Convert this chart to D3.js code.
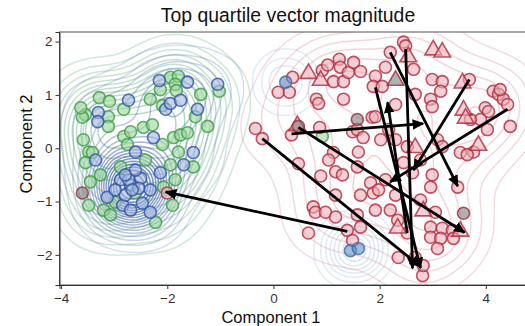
<!DOCTYPE html>
<html><head><meta charset="utf-8">
<script src="https://cdn.jsdelivr.net/npm/d3@7"></script>
<style>body{margin:0;background:#fff}text{font-family:"Liberation Sans",Arial,Helvetica,sans-serif}</style>
</head><body><svg id="c" width="525" height="326"></svg>
<script>
const title = "Top quartile vector magnitude";
const xLabel = "Component 1", yLabel = "Component 2";
const xTicks = [-4, -2, 0, 2, 4];
const yTicks = [-2, -1, 0, 1, 2];

const greenPts = [[-1.94,1.33],[-1.79,1.35],[-1.85,1.20],[-1.83,1.08],[-1.02,1.07],[-3.28,0.95],[-3.09,0.88],[-2.82,0.73],[-3.54,0.63],[-3.60,0.58],[-3.11,0.59],[-3.11,0.41],[-2.09,0.80],[-1.47,0.59],[-1.24,0.41],[-3.58,0.16],[-2.82,0.22],[-2.69,0.31],[-2.45,0.39],[-2.28,0.44],[-2.75,0.07],[-2.09,0.07],[-1.88,0.20],[-1.75,0.25],[-1.62,0.29],[-3.48,-0.07],[-1.79,-0.07],[-3.54,-0.27],[-3.41,-0.08],[-2.88,-0.35],[-1.94,-0.31],[-1.51,-0.35],[-3.45,-0.63],[-3.48,-1.07],[-2.60,-0.84],[-1.90,-1.07],[-2.07,-0.73],[-3.20,-1.16],[-2.98,-1.01],[-3.63,0.76],[-2.13,1.10],[-1.37,1.01],[-2.41,-0.22],[-3.26,-0.50],[-3.07,-1.25],[-2.22,-1.39],[-1.85,-0.59],[-2.32,0.92],[0.92,0.22]];
const bluePts = [[-2.15,1.27],[-1.62,1.24],[-1.05,1.20],[-2.73,0.90],[-3.30,0.67],[-3.31,0.50],[-2.03,0.73],[-1.94,0.84],[-1.75,0.90],[-1.43,0.73],[-2.26,0.20],[-2.60,-0.07],[-1.51,-0.08],[-3.35,-0.22],[-2.13,-0.46],[-1.69,-0.31],[-3.13,-0.92],[-2.69,-0.69],[-2.84,-1.07],[-2.69,-1.16],[-2.32,-1.20],[-2.47,-1.03],[-2.88,-0.59],[-2.50,-0.56],[-2.98,-0.78],[-2.32,-0.78],[-2.79,-0.88],[-2.60,-0.41],[-2.73,-0.59],[-2.54,-0.75],[-2.66,-0.78],[-2.79,-0.50]];
const steelPts = [[0.23,1.24],[1.45,-1.92],[1.60,-1.88]];
const redPts = [[0.36,1.33],[0.09,1.05],[0.30,1.05],[0.92,1.46],[1.02,1.56],[1.13,1.25],[1.32,1.25],[1.24,1.67],[1.26,1.52],[1.41,1.42],[1.51,1.61],[1.64,1.44],[1.92,1.35],[1.88,1.16],[0.81,0.92],[0.85,0.84],[1.32,0.92],[-0.34,0.37],[-0.21,0.18],[0.34,0.25],[0.87,0.39],[1.86,0.58],[1.49,0.31],[1.58,0.35],[1.69,0.20],[1.60,-0.07],[1.13,-0.08],[2.45,1.99],[2.49,1.92],[2.20,1.80],[2.11,1.52],[2.05,1.16],[2.64,1.48],[2.99,1.29],[3.18,1.25],[3.15,1.07],[2.96,0.92],[2.99,0.78],[2.67,1.01],[3.69,1.29],[3.99,0.76],[4.05,0.69],[4.14,1.07],[4.24,1.01],[4.33,0.92],[4.41,0.82],[4.27,1.10],[4.46,0.41],[3.90,0.54],[3.71,0.54],[4.03,0.35],[1.92,0.59],[2.17,0.35],[2.52,0.03],[3.09,0.16],[3.18,0.03],[3.52,-0.08],[3.77,-0.07],[0.47,-0.29],[1.04,-0.22],[0.89,-0.52],[1.17,-0.44],[1.30,-0.50],[1.58,-0.35],[1.17,-0.88],[0.75,-1.10],[0.79,-1.20],[0.98,-1.20],[1.17,-1.29],[1.58,-1.25],[1.64,-1.48],[1.39,-1.54],[0.66,-1.59],[1.49,-1.73],[1.83,-0.65],[1.88,-0.84],[2.99,-0.50],[2.96,-0.73],[3.47,-0.73],[3.05,-1.20],[2.96,-1.48],[3.18,-1.50],[3.37,-1.54],[2.96,-1.67],[3.15,-1.69],[3.39,-1.69],[3.09,-1.88],[2.52,-1.59],[2.34,-1.35],[2.20,-1.16],[1.92,-1.16],[2.35,-2.05],[2.67,-2.05],[2.81,-2.39],[2.82,-2.20],[2.45,-0.27],[3.65,-0.12],[2.62,-0.46],[2.11,-0.59],[1.98,-0.78],[2.30,-0.88],[2.77,-0.97],[2.30,0.82],[2.77,-0.22],[2.02,0.16],[2.30,0.16],[1.64,-0.88],[-2.00,-0.84]];
const redTri = [[0.66,1.42],[0.89,1.29],[0.45,0.44],[2.54,1.73],[3.01,1.86],[3.18,1.82],[3.56,1.24],[3.58,0.73],[3.62,0.58],[2.67,0.03],[3.86,0.07],[2.82,-1.16],[3.52,-1.54],[2.34,-1.48]];
const grayPts = [[0.47,0.41],[1.58,0.54],[3.58,-1.22],[-3.60,-0.84]];
const grayTri = [[2.30,1.29]];
const arrowFrom = [[1.39,-1.56],[-0.21,0.18],[0.34,0.27],[0.47,0.39],[2.20,1.80],[4.41,0.73],[3.69,1.29],[1.92,1.14],[2.49,1.86],[2.52,-1.59]];
const arrowTo   = [[-2.03,-0.82],[2.77,-2.22],[2.82,0.46],[3.60,-1.58],[3.47,-0.71],[2.20,-0.63],[2.64,-0.41],[2.77,-2.25],[2.62,-2.25],[2.15,0.86]];

const W = 525, H = 326;
const svg = d3.select("#c");
const x = d3.scaleLinear().domain([-4.03, 4.87]).range([59.5, 532]);
const y = d3.scaleLinear().domain([-2.565, 2.18]).range([285, 32]);

svg.append("defs").append("clipPath").attr("id","clip").append("rect")
  .attr("x",59.5).attr("y",32).attr("width",W-59.5).attr("height",253);

const plot = svg.append("g").attr("clip-path","url(#clip)");

function contours(pts, bw, n, color, opLo, opHi){
  const cs = d3.contourDensity().x(d=>x(d[0])).y(d=>y(d[1]))
    .size([W,H]).bandwidth(bw).thresholds(n)(pts);
  const op = d3.scaleLinear().domain([0, Math.max(1,cs.length-1)]).range([opLo, opHi]);
  plot.append("g").selectAll("path").data(cs).join("path")
    .attr("d", d3.geoPath()).attr("fill","none")
    .attr("stroke", color).attr("stroke-width",1.5)
    .attr("stroke-opacity",(d,i)=>op(i));
}
contours(redPts.concat(redTri,grayPts.slice(0,3),grayTri), 24, 10, "#e0909c", 0.32, 0.42);
contours(greenPts.slice(0,-1), 22, 10, "#72b889", 0.32, 0.55);
contours(bluePts, 21, 16, "#4a6cb2", 0.22, 0.9);
contours(steelPts, 17, 6, "#9dbfe3", 0.3, 0.4);

function circles(pts, fill, stroke){
  plot.append("g").selectAll("circle").data(pts).join("circle")
    .attr("cx",d=>x(d[0])).attr("cy",d=>y(d[1])).attr("r",6)
    .attr("fill",fill).attr("fill-opacity",0.6)
    .attr("stroke",stroke).attr("stroke-opacity",0.8).attr("stroke-width",1.6);
}
function tris(pts, fill, stroke){
  const sym = d3.symbol().type(d3.symbolTriangle).size(120);
  plot.append("g").selectAll("path").data(pts).join("path")
    .attr("transform",d=>`translate(${x(d[0])},${y(d[1])+1})`).attr("d",sym)
    .attr("fill",fill).attr("fill-opacity",0.6)
    .attr("stroke",stroke).attr("stroke-opacity",0.8).attr("stroke-width",1.6);
}
circles(greenPts, "#9fd69b", "#3c9c48");
circles(bluePts, "#a3b6e0", "#2f52a3");
circles(redPts, "#e9b1b9", "#b3283c");
tris(redTri, "#e9b1b9", "#b3283c");
circles(steelPts, "#5f8fc4", "#3d6aa3");
circles(grayPts, "#7d7d7d", "#a02a3c");
tris(grayTri, "#7d7d7d", "#a02a3c");

svg.select("defs").append("marker").attr("id","ah").attr("viewBox","0 0 10 10")
  .attr("refX",9).attr("refY",5).attr("markerWidth",4.2).attr("markerHeight",4.2)
  .attr("markerUnits","strokeWidth").attr("orient","auto")
  .append("path").attr("d","M0,0.5L10,5L0,9.5Z").attr("fill","#000");
plot.append("g").selectAll("line").data(arrowFrom).join("line")
  .attr("x1",d=>x(d[0])).attr("y1",d=>y(d[1]))
  .attr("x2",(d,i)=>x(arrowTo[i][0])).attr("y2",(d,i)=>y(arrowTo[i][1]))
  .attr("stroke","#000").attr("stroke-width",2.8).attr("marker-end","url(#ah)");

// panel border
svg.append("rect").attr("x",59.5).attr("y",32).attr("width",W).attr("height",253)
  .attr("fill","none").attr("stroke","#555").attr("stroke-width",1);

const xa = svg.append("g").attr("transform","translate(0,285)")
  .call(d3.axisBottom(x).tickValues(xTicks).tickSize(4).tickPadding(3).tickFormat(d3.format("d")));
const ya = svg.append("g").attr("transform","translate(59.5,0)")
  .call(d3.axisLeft(y).tickValues(yTicks).tickSize(4).tickPadding(3).tickFormat(d3.format("d")));
[xa,ya].forEach(a=>{
  a.select(".domain").attr("stroke","#333");
  a.selectAll(".tick line").attr("stroke","#333");
  a.selectAll(".tick text").attr("fill","#333").style("font-size","13.5px")
   .style("font-family",'"Liberation Sans",Arial,sans-serif');
});
xa.selectAll(".tick text").attr("dy","0.85em");

svg.append("text").attr("x",288).attr("y",22).attr("text-anchor","middle")
  .style("font-size","19.4px").attr("fill","#111").text(title);
svg.append("text").attr("x",271).attr("y",322.5).attr("text-anchor","middle")
  .style("font-size","16.5px").attr("fill","#111").text(xLabel);
svg.append("text").attr("transform","translate(32,144)rotate(-90)").attr("text-anchor","middle")
  .style("font-size","16.5px").attr("fill","#111").text(yLabel);
</script></body></html>
